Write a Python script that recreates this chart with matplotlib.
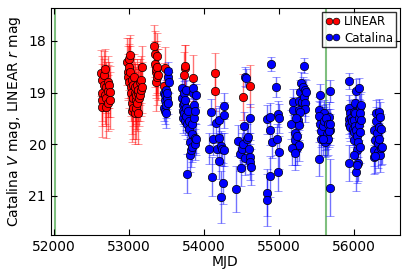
import numpy as np
import matplotlib
matplotlib.use("Agg")
import matplotlib.pyplot as plt

# LINEAR light curve (MJD, r mag, error)
linear_mjd = [52635, 52640, 52645, 52648, 52650, 52670, 52675, 52680, 52690, 52695,
              52700, 52705, 52720, 52725, 52730, 52745, 52750, 52755,
              52985, 52990, 52995, 53000, 53005, 53010, 53020, 53025, 53030, 53035,
              53040, 53045, 53050, 53055, 53060, 53065, 53070, 53080, 53085, 53090,
              53095, 53100, 53105, 53110, 53115, 53120, 53125, 53130, 53135, 53150,
              53155, 53160, 53170, 53175, 53180,
              53345, 53350, 53355, 53360, 53365, 53370, 53375, 53380, 53385, 53390,
              53489, 53470,
              53747, 53745, 53750, 53853,
              54152, 54152, 54525, 54613]
linear_mag = [18.62, 19.00, 19.15, 19.27, 18.75, 18.65, 18.85, 19.05, 18.55, 18.90,
              19.10, 19.28, 18.80, 18.97, 19.20, 18.85, 18.98, 19.15,
              18.40, 18.60, 18.70, 18.35, 18.50, 18.80, 18.28, 18.60, 18.90, 19.00,
              19.20, 18.75, 19.35, 18.85, 19.10, 19.30, 18.70, 19.00, 19.40, 18.90,
              19.15, 19.30, 19.05, 18.85, 19.20, 19.40, 19.00, 18.95, 19.10, 18.80,
              19.05, 18.95, 18.75, 18.50, 18.90,
              18.10, 18.25, 18.45, 18.60, 18.80, 18.55, 18.30, 18.70, 18.50, 18.65,
              18.52, 18.87,
              18.52, 18.66, 18.48, 18.72,
              18.63, 18.96, 19.09, 18.87]
linear_err = [0.45, 0.55, 0.50, 0.60, 0.45, 0.45, 0.50, 0.55, 0.40, 0.50,
              0.55, 0.60, 0.50, 0.50, 0.55, 0.45, 0.50, 0.55,
              0.45, 0.50, 0.45, 0.40, 0.45, 0.50, 0.40, 0.50, 0.55, 0.55,
              0.60, 0.50, 0.60, 0.50, 0.55, 0.60, 0.45, 0.55, 0.60, 0.50,
              0.55, 0.60, 0.55, 0.50, 0.55, 0.60, 0.55, 0.50, 0.55, 0.45,
              0.50, 0.50, 0.45, 0.40, 0.50,
              0.40, 0.45, 0.45, 0.50, 0.55, 0.50, 0.45, 0.55, 0.50, 0.50,
              0.40, 0.45,
              0.45, 0.45, 0.40, 0.45,
              0.40, 0.40, 0.45, 0.40]

# Catalina light curve (MJD, V mag, error)
catalina_mjd = [53470, 53475, 53480, 53485, 53490, 53495, 53500, 53505, 53510, 53515,
                53520, 53525, 53530, 53535,
                53710, 53715, 53720, 53725, 53730, 53735, 53740, 53745, 53750, 53755,
                53760, 53765, 53770, 53775, 53780, 53790, 53800, 53810, 53820, 53825,
                53830, 53840, 53845, 53850, 53860, 53865, 53870, 53875, 53880, 53885,
                53890, 53900, 53905,
                54103, 54067, 54120, 54112, 54169, 54178, 54200, 54209, 54200, 54232,
                54245, 54267, 54267, 54267, 54258, 54232,
                54436, 54458, 54480, 54503, 54511, 54525, 54533, 54547, 54556, 54562,
                54578, 54591, 54600, 54613, 54622, 54622, 54631,
                54903, 54969, 54844, 54880, 54885, 54912, 54987, 55000, 54978, 55000,
                54987, 54880, 54844, 54844,
                55169, 55191, 55191, 55213, 55213, 55222, 55244, 55244, 55258, 55267,
                55267, 55267, 55289, 55302, 55311, 55324, 55333, 55347, 55343, 55347,
                55356, 55369, 55289, 55236, 55267, 55178, 55213,
                55533, 55556, 55556, 55578, 55578, 55600, 55613, 55622, 55645, 55645,
                55667, 55680, 55689, 55533, 55680, 55540, 55550, 55560, 55570, 55590,
                55605, 55615, 55630, 55640, 55655, 55660, 55670, 55685, 55590,
                55934, 55934, 55934, 55934, 55947, 55956, 55965, 55978, 55991, 56000,
                56000, 56000, 56009, 56013, 56022, 56022, 56036, 56036, 56045, 56045,
                56053, 56058, 56067, 56067, 56076, 56080, 56089, 56089, 56098, 56080,
                56000, 56036, 55934, 56098, 56050,
                56267, 56276, 56276, 56289, 56298, 56302, 56311, 56320, 56325, 56333,
                56333, 56342, 56347, 56356, 56365, 56369, 56378, 56280]
catalina_mag = [19.00, 19.30, 19.15, 19.35, 19.05, 19.25, 19.40, 18.95, 19.10, 19.00,
                19.20, 18.70, 18.58, 18.80,
                18.92, 19.10, 19.25, 19.35, 19.50, 19.00, 19.20, 19.40, 19.55, 19.15,
                19.30, 18.95, 19.45, 19.60, 20.57, 19.35, 19.70, 19.55, 19.95, 20.20,
                20.12, 19.80, 19.60, 20.05, 19.00, 18.92, 19.25, 19.50, 19.88, 20.00,
                19.35, 19.05, 19.90,
                19.38, 20.09, 19.90, 20.63, 19.58, 20.09, 19.54, 19.88, 20.32, 20.04,
                20.10, 19.26, 19.43, 20.11, 20.76, 21.02,
                20.87, 19.93, 20.19, 20.46, 20.09, 20.00, 19.65, 20.27, 18.69, 18.72,
                19.90, 19.87, 20.10, 20.24, 19.50, 20.34, 20.45,
                18.45, 18.89, 19.52, 19.48, 19.72, 19.96, 19.41, 19.50, 19.90, 20.16,
                20.53, 20.62, 20.94, 21.08,
                19.61, 19.18, 19.34, 19.79, 20.08, 19.92, 20.08, 19.85, 19.53, 19.63,
                19.34, 19.16, 18.98, 18.81, 19.18, 18.89, 19.08, 18.95, 18.48, 19.21,
                19.32, 18.98, 19.37, 19.50, 20.02, 20.08, 20.18,
                19.34, 19.05, 19.47, 19.53, 19.72, 19.40, 19.82, 19.59, 19.66, 19.92,
                19.47, 18.97, 19.72, 20.29, 20.84, 19.45, 19.60, 19.75, 19.90, 19.65,
                19.55, 19.95, 19.50, 19.80, 19.60, 19.90, 19.75, 19.60, 19.90,
                18.78, 19.30, 19.52, 19.60, 19.40, 19.66, 19.50, 19.56, 19.71, 19.37,
                19.53, 19.76, 19.92, 19.65, 19.21, 19.40, 18.96, 19.72, 19.85, 20.11,
                19.95, 20.37, 18.92, 19.50, 19.63, 19.27, 19.40, 19.76, 19.53, 20.05,
                20.21, 20.53, 20.36, 19.24, 20.40,
                19.72, 20.11, 20.24, 19.92, 19.40, 19.56, 19.79, 19.98, 20.15, 19.37,
                19.66, 19.89, 20.21, 19.47, 20.08, 19.71, 20.06, 20.23]
catalina_err = [0.20, 0.25, 0.22, 0.25, 0.20, 0.25, 0.28, 0.20, 0.22, 0.20,
                0.22, 0.18, 0.18, 0.20,
                0.20, 0.22, 0.25, 0.25, 0.28, 0.22, 0.25, 0.25, 0.28, 0.22,
                0.25, 0.20, 0.28, 0.30, 0.38, 0.25, 0.30, 0.28, 0.30, 0.33,
                0.32, 0.30, 0.28, 0.30, 0.22, 0.20, 0.25, 0.28, 0.30, 0.30,
                0.25, 0.22, 0.30,
                0.25, 0.30, 0.30, 0.38, 0.28, 0.30, 0.28, 0.30, 0.35, 0.30,
                0.32, 0.25, 0.25, 0.32, 0.40, 0.50,
                0.45, 0.30, 0.32, 0.35, 0.30, 0.30, 0.28, 0.33, 0.18, 0.18,
                0.30, 0.30, 0.32, 0.33, 0.28, 0.35, 0.35,
                0.13, 0.20, 0.28, 0.28, 0.30, 0.30, 0.25, 0.28, 0.30, 0.32,
                0.38, 0.40, 0.45, 0.50,
                0.28, 0.25, 0.25, 0.30, 0.32, 0.30, 0.32, 0.30, 0.28, 0.28,
                0.25, 0.22, 0.22, 0.20, 0.22, 0.20, 0.22, 0.22, 0.15, 0.25,
                0.25, 0.22, 0.25, 0.28, 0.30, 0.32, 0.32,
                0.25, 0.22, 0.28, 0.28, 0.30, 0.25, 0.30, 0.28, 0.28, 0.30,
                0.28, 0.22, 0.30, 0.33, 0.55, 0.28, 0.28, 0.30, 0.30, 0.28,
                0.28, 0.30, 0.28, 0.30, 0.28, 0.30, 0.30, 0.28, 0.30,
                0.15, 0.25, 0.28, 0.28, 0.25, 0.28, 0.28, 0.28, 0.30, 0.25,
                0.28, 0.30, 0.30, 0.28, 0.25, 0.25, 0.22, 0.30, 0.30, 0.32,
                0.30, 0.35, 0.20, 0.28, 0.28, 0.25, 0.25, 0.30, 0.28, 0.32,
                0.33, 0.38, 0.35, 0.25, 0.35,
                0.30, 0.32, 0.33, 0.30, 0.25, 0.28, 0.30, 0.30, 0.32, 0.25,
                0.28, 0.30, 0.33, 0.28, 0.32, 0.30, 0.32, 0.33]

# vertical reference lines
vlines_mjd = [52020, 55635]

plt.rcParams['font.family'] = 'DejaVu Sans'
fig = plt.figure(figsize=(4.07, 2.73), dpi=100)
ax = fig.add_axes([0.125, 0.139, 0.858, 0.832])

for m in vlines_mjd:
    ax.axvline(m, color='green', alpha=0.5, lw=1.5, zorder=1)

def draw(mjd, mag, err, color, label):
    mk = ax.errorbar(mjd, mag, yerr=err, fmt='o', color=color, ecolor=color,
                     ms=6, mec='k', mew=0.5, elinewidth=1, capsize=3,
                     label=label, zorder=2)
    for coll in mk[2]:
        coll.set_alpha(0.55)
    for cap in mk[1]:
        cap.set_alpha(0.55)
    return mk

draw(linear_mjd, linear_mag, linear_err, 'red', 'LINEAR')
draw(catalina_mjd, catalina_mag, catalina_err, 'blue', 'Catalina')

ax.set_xlim(51965, 56620)
ax.set_ylim(21.76, 17.36)
ax.set_xticks([52000, 53000, 54000, 55000, 56000])
ax.set_yticks([18, 19, 20, 21])
ax.tick_params(direction='in', top=True, right=True, labelsize=10, length=4)
ax.set_xlabel('MJD', fontsize=10, labelpad=1)
ax.set_ylabel('Catalina $V$ mag, LINEAR $r$ mag', fontsize=10)

# legend shows markers only, no error bars
h, l = ax.get_legend_handles_labels()
h = [hh[0] for hh in h]
leg = ax.legend(h, l, loc='upper right', numpoints=2, fontsize=8.5, fancybox=False,
                markerscale=0.8, handlelength=1.2, handletextpad=0.4,
                borderpad=0.25, labelspacing=0.3, borderaxespad=0.35)
leg.get_frame().set_edgecolor('k')

fig.savefig('out.png', dpi=100)
